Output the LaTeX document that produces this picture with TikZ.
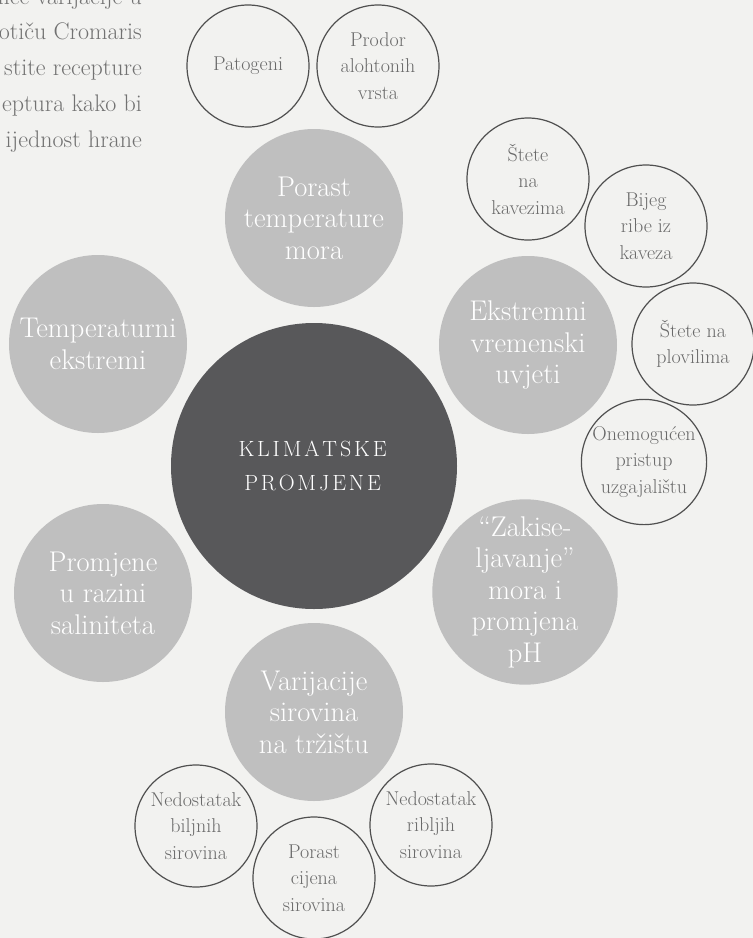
\documentclass[tikz,border=0pt]{standalone}
\usepackage{tikz}

\definecolor{paper}{HTML}{F2F2F0}
\definecolor{topicgray}{HTML}{BFBFBF}
\definecolor{coregray}{HTML}{58585A}
\definecolor{ringgray}{HTML}{505050}
\definecolor{detailtext}{HTML}{6A6A6A}
\definecolor{bodytext}{HTML}{727272}

% letter spacing for the centre title
\def\spaced#1{\spacedloop#1\relax}
\def\spacedloop#1{\ifx#1\relax\else#1\kern.13em\expandafter\spacedloop\fi}

\begin{document}
\begin{tikzpicture}[x=1pt, y=-1pt,
    topic/.style={circle, fill=topicgray, text=white, minimum size=178pt, inner sep=0pt,
        align=center, font=\fontsize{28.5}{31.5}\selectfont},
    detail/.style={circle, draw=ringgray, line width=1.2pt, text=detailtext, minimum size=122pt,
        inner sep=0pt, align=center, font=\fontsize{20}{26.5}\selectfont},
    intro/.style={anchor=base east, inner sep=0pt, text=bodytext, font=\fontsize{24}{36}\selectfont}]
    \useasboundingbox (0,0) rectangle (753,938);
    \fill[paper] (0,0) rectangle (753,938);
    \clip (0,0) rectangle (753,938);

    % text running in from the page
    \node[intro] (intro1) at (142,4) {nce varijacije u};
    \node[intro] (intro2) at (142,39) {otiču Cromaris};
    \node[intro] (intro3) at (142,75) {stite recepture};
    \node[intro] (intro4) at (142,111) {eptura kako bi};
    \node[intro] (intro5) at (142,147) {ijednost hrane};

    % centre
    \node[circle, fill=coregray, text=white, minimum size=286pt, inner sep=0pt, align=center,
        font=\fontsize{22}{34}\selectfont] (climate) at (314,466) {\spaced{KLIMATSKE}\\\spaced{PROMJENE}};

    % main topics
    \node[topic] (seatemp) at (314,218) {Porast\\temperature\\mora};
    \node[topic] (extremes) at (98,344) {Temperaturni\\ekstremi};
    \node[topic] (weather) at (528,345) {Ekstremni\\vremenski\\uvjeti};
    \node[topic] (salinity) at (103,593) {Promjene\\u razini\\saliniteta};
    \node[topic] (acid) at (525,592) {``Zakise-\\ljavanje''\\mora i\\promjena\\pH};
    \node[topic] (market) at (314,712) {Varijacije\\sirovina\\na tržištu};

    % details
    \node[detail] (pathogens) at (248,66) {Patogeni};
    \node[detail] (invasive) at (378,66) {Prodor\\alohtonih\\vrsta};
    \node[detail] (cages) at (528,179) {Štete\\na\\kavezima};
    \node[detail] (escape) at (646,226) {Bijeg\\ribe iz\\kaveza};
    \node[detail] (vessels) at (693,344) {Štete na\\plovilima};
    \node[detail] (access) at (644,462) {Onemogućen\\pristup\\uzgajalištu};
    \node[detail] (plantfeed) at (196,826) {Nedostatak\\biljnih\\sirovina};
    \node[detail] (prices) at (314,878) {Porast\\cijena\\sirovina};
    \node[detail] (fishfeed) at (431,825) {Nedostatak\\ribljih\\sirovina};
\end{tikzpicture}
\end{document}
